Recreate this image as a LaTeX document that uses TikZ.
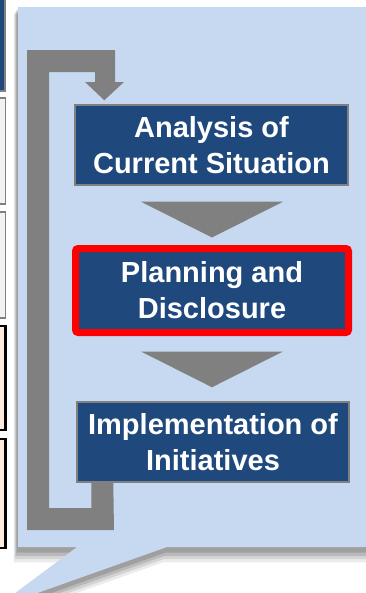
\documentclass[tikz,border=0pt]{standalone}
\usepackage{fontspec}
\setmainfont{Liberation Sans}
\usetikzlibrary{calc}
\definecolor{boxblue}{HTML}{1F497D}
\definecolor{callblue}{HTML}{C6D9F1}
\definecolor{loopgray}{HTML}{808080}
\definecolor{peach}{HTML}{FDEADA}
\definecolor{lightgr}{HTML}{F2F2F2}
\begin{document}
\begin{tikzpicture}[x=0.75pt,y=-0.75pt,
  stepbox/.style={draw=loopgray, line width=1.1pt, fill=boxblue, text=white,
    font=\bfseries\fontsize{21.75}{27}\selectfont, align=center, inner sep=0pt},
  sidebox/.style={draw=loopgray, line width=1.1pt, fill=lightgr},
  sidebox2/.style={draw=black, line width=1.6pt, fill=peach},
  flowtri/.style={fill=loopgray}
]
\useasboundingbox (0,0) rectangle (366,593);
\clip (0,0) rectangle (366,593);
% left partial boxes
\fill[boxblue,draw=loopgray,line width=1.1pt] (-5,-5) rectangle (5,91);
\draw[sidebox] (-5,98) rectangle (5.5,204);
\draw[sidebox] (-5,212) rectangle (5.5,318);
\draw[sidebox2] (-5,326) rectangle (5.5,430);
\draw[sidebox2] (-5,439) rectangle (5.5,548);
% callout shadow
\foreach \o/\op in {7/0.08,5.5/0.1,4/0.12,2.5/0.14}{
  \fill[black,opacity=\op] ($(18,7)+(-\o*0.6,\o)$) -- ($(370,7)+(-\o*0.6,\o)$) -- ($(370,547)+(-\o*0.6,\o*2.2)$) -- ($(167,547)+(-\o*0.6,\o*2.2)$) -- ($(-5,608)+(-\o*0.6,\o*2.2)$) -- ($(77,547)+(-\o*0.6,\o*2.2)$) -- ($(18,547)+(-\o*0.6,\o*2.2)$) -- cycle;
}
% callout
\fill[callblue] (18,7) -- (370,7) -- (370,547) -- (167,547) -- (-5,608) -- (77,547) -- (18,547) -- cycle;
% boxes
\node[stepbox, minimum width=204.75pt, minimum height=60pt] (b1) at (211.5,145) {Analysis of\\Current Situation};
\node[stepbox, draw=red, line width=5.25pt, rounded corners=2pt, minimum width=204.75pt, minimum height=63pt] (b2) at (212,290.5) {Planning and\\Disclosure};
\node[stepbox, minimum width=204pt, minimum height=60pt] (b3) at (213,442) {Implementation of\\Initiatives};
% flow triangles
\fill[flowtri] ($(b1.south)+(-70.5,16)$) -- ($(b1.south)+(71.5,16)$) -- ($(b2.north)+(0,-7.5)$) -- cycle;
\fill[flowtri] ($(b2.south)+(-71,15.5)$) -- ($(b2.south)+(71,15.5)$) -- ($(b3.north)+(-1,-14)$) -- cycle;
% feedback loop
\coordinate (tip) at ($(b1.north west)+(30,-4)$);
\coordinate (start) at ($(b3.south west)+(15,0)$);
\fill[loopgray] (27,50) -- (115,50) -- (115,82) -- (124,82) -- (tip) -- (85,82) -- (95,82) -- (95,72) -- (49,72) -- (49,508) -- (start |- 0,508) -- (start) -- ($(start)+(22,0)$) -- (114,530) -- (27,530) -- cycle;
\end{tikzpicture}
\end{document}
